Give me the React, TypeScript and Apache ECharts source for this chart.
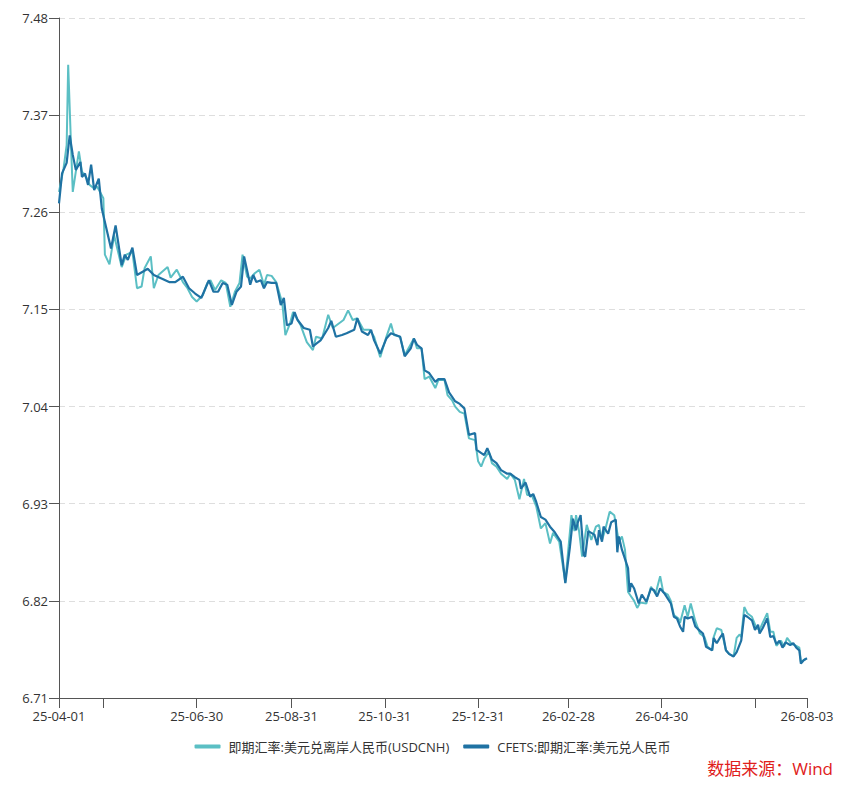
import React, { useEffect, useRef } from "react";
import * as echarts from "echarts";

// days counted from 2025-04-01
const cnhDays = [
  0, 3, 5, 6, 8, 9, 13, 15, 18, 20, 23, 25, 29, 30, 33, 36, 41, 44, 48, 51, 54, 56, 60, 62, 65,
  71, 73, 77, 81, 84, 87, 90, 94, 97, 99, 102, 106, 109, 112, 115, 118, 120, 123, 125, 128, 131,
  134, 136, 139, 142, 146, 148, 151, 153, 158, 162, 166, 168, 172, 176, 179, 186, 189, 192, 195,
  199, 203, 206, 210, 214, 217, 219, 223, 226, 232, 234, 237, 239, 242, 246, 248, 252, 254, 257,
  259, 262, 265, 268, 272, 274, 276, 278, 281, 283, 286, 289, 293, 295, 298, 301, 304, 306, 309,
  312, 315, 318, 321, 323, 327, 331, 335, 337, 338, 340, 342, 345, 348, 351, 353, 355, 357, 360,
  363, 366, 368, 370, 372, 376, 378, 380, 384, 387, 390, 393, 395, 398, 400, 402, 405, 406, 409,
  411, 413, 416, 419, 422, 424, 427, 428, 430, 433, 436, 438, 441, 443, 445, 446, 448, 450, 453,
  456, 458, 460, 463, 465, 467, 469, 472, 474, 476, 479, 481, 484, 485, 488,
];
const cnhValues = [
  7.283, 7.31, 7.336, 7.427, 7.329, 7.283, 7.329, 7.306, 7.299, 7.291, 7.287, 7.289, 7.276, 7.212,
  7.201, 7.234, 7.198, 7.212, 7.215, 7.174, 7.176, 7.197, 7.21, 7.174, 7.189,
  7.198, 7.186, 7.195, 7.181, 7.174, 7.164, 7.159, 7.166, 7.18, 7.183, 7.172, 7.183, 7.18, 7.153,
  7.17, 7.18, 7.212, 7.187, 7.185, 7.191, 7.195,
  7.178, 7.189, 7.188, 7.181, 7.157, 7.121, 7.134, 7.147, 7.132, 7.113, 7.104, 7.119, 7.117, 7.144,
  7.129, 7.138, 7.149, 7.138, 7.14,
  7.127, 7.127, 7.119, 7.096, 7.119, 7.134, 7.121, 7.119, 7.098, 7.117, 7.106, 7.106, 7.071, 7.074,
  7.061, 7.07, 7.07, 7.053, 7.047,
  7.04, 7.034, 7.032, 7.004, 7.002, 6.978, 6.972, 6.981, 6.989, 6.976, 6.972, 6.964, 6.958, 6.964,
  6.957, 6.935, 6.958, 6.94, 6.94,
  6.927, 6.902, 6.908, 6.885, 6.897, 6.887, 6.841, 6.917, 6.899, 6.917, 6.899, 6.87, 6.906, 6.889,
  6.904, 6.906, 6.889, 6.9, 6.921,
  6.917, 6.887, 6.893, 6.878, 6.83, 6.82, 6.812, 6.818, 6.817, 6.836, 6.828, 6.848, 6.83, 6.827,
  6.82, 6.804, 6.8, 6.795, 6.815,
  6.802, 6.817, 6.797, 6.783, 6.779, 6.768, 6.764, 6.779, 6.789, 6.787, 6.764, 6.76, 6.757, 6.778,
  6.782, 6.779, 6.813, 6.806, 6.802,
  6.789, 6.787, 6.795, 6.806, 6.785, 6.785, 6.769, 6.775, 6.768, 6.778, 6.771, 6.77, 6.767, 6.751,
  6.754,
];

const cfetsDays = [
  0, 2, 5, 7, 9, 11, 14, 15, 17, 19, 21, 23, 26, 28, 34, 37, 41, 43, 45, 48, 51, 55, 58, 62, 67,
  72, 76, 81, 85, 89, 93, 98, 101, 104, 107, 110, 113, 116, 119, 121, 125, 127, 129, 132, 134,
  136, 139, 142, 145, 147, 149, 152, 154, 156, 160, 164, 166, 168, 171, 176, 178, 181, 185, 188,
  193, 195, 198, 202, 204, 206, 210, 214, 217, 220, 223, 226, 230, 232, 234, 237, 239, 242, 246,
  248, 252, 255, 257, 259, 262, 265, 268, 272, 273, 278, 280, 283, 286, 289, 293, 295, 298, 301,
  302, 305, 308, 310, 312, 315, 318, 321, 324, 328, 331, 334, 336, 338, 339, 341, 343, 344, 346,
  350, 352, 353, 355, 356, 359, 361, 364, 365, 366, 368, 372, 373, 374, 376, 379, 381, 384, 387,
  389, 391, 393, 396, 400, 402, 404, 406, 408, 409, 411, 414, 416, 419, 421, 423, 427, 428, 430,
  432, 434, 436, 438, 441, 443, 446, 448, 450, 453, 455, 457, 458, 460, 463, 465, 467, 469, 471,
  473, 475, 478, 480, 482, 484, 485, 487, 489,
];
const cfetsValues = [
  7.27, 7.304, 7.316, 7.347, 7.325, 7.308, 7.317, 7.3, 7.304, 7.291, 7.314, 7.285, 7.298, 7.264,
  7.219, 7.245, 7.2, 7.212, 7.206, 7.22, 7.189, 7.193, 7.196, 7.189, 7.185,
  7.181, 7.181, 7.187, 7.174, 7.168, 7.163, 7.183, 7.17, 7.17, 7.18, 7.178, 7.155, 7.17, 7.176,
  7.21, 7.178, 7.189, 7.181, 7.183, 7.174,
  7.181, 7.18, 7.18, 7.155, 7.163, 7.132, 7.134, 7.147, 7.138, 7.129, 7.127, 7.108, 7.111, 7.115,
  7.129, 7.137, 7.119, 7.121, 7.123,
  7.127, 7.14, 7.125, 7.121, 7.127, 7.115, 7.1, 7.117, 7.123, 7.121, 7.119, 7.097, 7.106, 7.117,
  7.11, 7.106, 7.081, 7.078, 7.068,
  7.071, 7.071, 7.056, 7.051, 7.046, 7.043, 7.038, 7.008, 7.01, 6.991, 6.985, 6.993, 6.98, 6.976,
  6.968, 6.964, 6.964, 6.96, 6.957,
  6.947, 6.954, 6.938, 6.941, 6.932, 6.915, 6.912, 6.904, 6.898, 6.887, 6.84, 6.881, 6.913, 6.9,
  6.908, 6.917, 6.872, 6.87, 6.899,
  6.895, 6.883, 6.9, 6.887, 6.904, 6.896, 6.909, 6.912, 6.875, 6.893, 6.878, 6.857, 6.83, 6.84,
  6.834, 6.817, 6.827, 6.819, 6.834,
  6.832, 6.825, 6.834, 6.828, 6.817, 6.802, 6.8, 6.791, 6.785, 6.802, 6.8, 6.802, 6.791, 6.786,
  6.783, 6.768, 6.764, 6.778, 6.772,
  6.778, 6.783, 6.764, 6.76, 6.757, 6.762, 6.775, 6.804, 6.802, 6.798, 6.787, 6.793, 6.783, 6.789,
  6.8, 6.779, 6.78, 6.771, 6.775,
  6.767, 6.773, 6.77, 6.772, 6.767, 6.764, 6.749, 6.753, 6.755,
];

const startDate = "2025-04-01";
const tickDates = [
  "2025-04-01", "2025-04-30", "2025-06-30", "2025-08-31", "2025-10-31",
  "2025-12-31", "2026-02-28", "2026-04-30", "2026-06-30", "2026-08-03",
];
const labelDates = [
  "2025-04-01", "2025-06-30", "2025-08-31", "2025-10-31",
  "2025-12-31", "2026-02-28", "2026-04-30", "2026-08-03",
];

const yMin = 6.71;
const yMax = 7.48;
const yStep = 0.11;

const cnhName = "即期汇率:美元兑离岸人民币(USDCNH)";
const cfetsName = "CFETS:即期汇率:美元兑人民币";
const sourceText = "数据来源：Wind";

const font = '"Open Sans", "Noto Sans CJK SC", sans-serif';

const parseDate = (s: string) => {
  const [y, m, d] = s.split("-").map(Number);
  return Date.UTC(y, m - 1, d);
};
const toDay = (s: string) => Math.round((parseDate(s) - parseDate(startDate)) / 86400000);
const pad = (n: number) => String(n).padStart(2, "0");
const dayLabel = (day: number) => {
  const d = new Date(parseDate(startDate) + Math.round(day) * 86400000);
  return `${String(d.getUTCFullYear()).slice(2)}-${pad(d.getUTCMonth() + 1)}-${pad(d.getUTCDate())}`;
};

export default function App() {
  const chartRef = useRef<HTMLDivElement>(null);

  useEffect(() => {
    document.body.style.margin = "0";
    if (!chartRef.current) return;
    const chart = echarts.init(chartRef.current, undefined, { renderer: "svg" });

    const option: any = {
      animation: false,
      grid: { left: 59, right: 58, top: 18, bottom: 98 },
      legend: {
        left: "center",
        top: 735,
        itemWidth: 26,
        itemHeight: 4,
        itemGap: 14,
        icon: "roundRect",
        textStyle: { fontSize: 13, color: "#333", fontFamily: font, padding: [0, 0, 0, 3] },
        data: [cnhName, cfetsName],
      },
      xAxis: {
        type: "value",
        min: 0,
        max: toDay(tickDates[tickDates.length - 1]),
        splitLine: { show: false },
        axisLine: { lineStyle: { color: "#555", width: 1 } },
        axisTick: {
          length: 10,
          lineStyle: { color: "#555" },
          customValues: tickDates.map(toDay),
        },
        axisLabel: {
          customValues: labelDates.map(toDay),
          color: "#333",
          fontSize: 13,
          fontFamily: font,
          margin: 11,
          formatter: (v: number) => dayLabel(v),
        },
      },
      yAxis: {
        type: "value",
        min: yMin,
        max: yMax,
        interval: yStep,
        axisLine: { show: true, lineStyle: { color: "#555", width: 1 } },
        axisTick: { show: true, length: 10, lineStyle: { color: "#555" } },
        axisLabel: {
          color: "#333",
          fontSize: 13,
          fontFamily: font,
          margin: 11,
          formatter: (v: number) => v.toFixed(2),
        },
        splitLine: { lineStyle: { color: "#dedede", type: [6, 4] } },
      },
      series: [
        {
          name: cnhName,
          type: "line",
          data: cnhDays.map((d, i) => [d, cnhValues[i]]),
          showSymbol: false,
          symbol: "none",
          lineStyle: { width: 2, color: "#5bbfc4" },
          itemStyle: { color: "#5bbfc4" },
        },
        {
          name: cfetsName,
          type: "line",
          data: cfetsDays.map((d, i) => [d, cfetsValues[i]]),
          showSymbol: false,
          symbol: "none",
          lineStyle: { width: 2.2, color: "#1f72a3" },
          itemStyle: { color: "#1f72a3" },
        },
      ],
      graphic: [
        {
          type: "text",
          right: 32,
          top: 760,
          style: {
            text: sourceText,
            fontSize: 17,
            fill: "#e0201b",
            fontFamily: font,
          },
        },
      ],
    };

    chart.setOption(option);
    return () => chart.dispose();
  }, []);

  return <div ref={chartRef} style={{ width: 865, height: 796 }} />;
}
